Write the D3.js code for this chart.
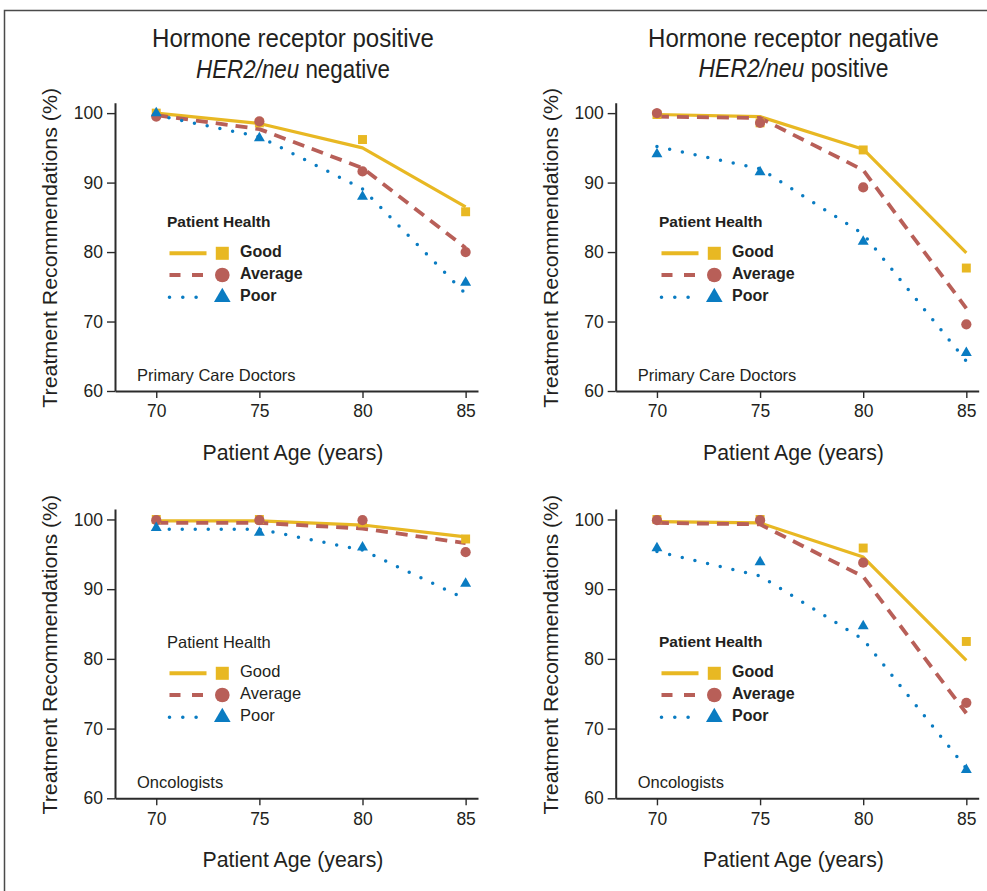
<!DOCTYPE html>
<html>
<head>
<meta charset="utf-8">
<script src="https://cdn.jsdelivr.net/npm/d3@7"></script>
<style>
  html, body { margin: 0; padding: 0; background: #fff; }
  svg { display: block; }
  text { font-family: "Liberation Sans", Arial, Helvetica, sans-serif; fill: #231f20; }
</style>
</head>
<body>
<svg id="chart" width="987" height="891"></svg>
<script>
// ---------------- DATA ----------------
const ages = [70, 75, 80, 85];
const xTicks = [70, 75, 80, 85];
const yTicks = [60, 70, 80, 90, 100];
const healthLevels = ["Good", "Average", "Poor"];
const columnTitles1 = ["Hormone receptor positive", "Hormone receptor negative"];
const columnTitles2Italic = ["HER2/neu", "HER2/neu"];
const columnTitles2Rest = [" negative", " positive"];
const rowLabels = ["Primary Care Doctors", "Oncologists"];
const xAxisTitle = "Patient Age (years)";
const yAxisTitle = "Treatment Recommendations (%)";
const legendTitle = "Patient Health";

// Primary care doctors, HR+ / HER2-   (lines = fitted, markers = observed)
const pcpPosGoodFit = [100.0, 98.5, 95.0, 86.5];
const pcpPosAvgFit  = [99.7, 97.7, 92.1, 80.6];
const pcpPosPoorFit = [99.7, 96.6, 89.1, 74.0];
const pcpPosGoodObs = [100.0, 98.6, 96.2, 85.8];
const pcpPosAvgObs  = [99.5, 98.8, 91.6, 80.0];
const pcpPosPoorObs = [100.0, 96.4, 88.0, 75.6];

// Primary care doctors, HR- / HER2+
const pcpNegGoodFit = [99.8, 99.5, 94.8, 79.9];
const pcpNegAvgFit  = [99.5, 99.3, 91.8, 71.9];
const pcpNegPoorFit = [95.2, 92.0, 82.6, 64.3];
const pcpNegGoodObs = [99.8, 98.6, 94.7, 77.7];
const pcpNegAvgObs  = [100.0, 98.6, 89.3, 69.6];
const pcpNegPoorObs = [94.1, 91.5, 81.5, 65.5];

// Oncologists, HR+ / HER2-
const oncPosGoodFit = [99.8, 99.8, 99.2, 97.5];
const oncPosAvgFit  = [99.5, 99.5, 98.7, 96.6];
const oncPosPoorFit = [98.6, 98.6, 95.6, 88.6];
const oncPosGoodObs = [100.0, 100.0, 99.5, 97.2];
const oncPosAvgObs  = [99.9, 99.9, 99.9, 95.3];
const oncPosPoorObs = [98.8, 98.1, 96.0, 90.8];

// Oncologists, HR- / HER2+
const oncNegGoodFit = [99.7, 99.5, 94.6, 79.8];
const oncNegAvgFit  = [99.5, 99.3, 91.8, 72.2];
const oncNegPoorFit = [95.4, 91.9, 82.8, 64.3];
const oncNegGoodObs = [100.0, 100.0, 95.9, 82.5];
const oncNegAvgObs  = [99.9, 99.9, 93.8, 73.7];
const oncNegPoorObs = [95.9, 93.9, 84.7, 64.1];

// ---------------- STYLE / LAYOUT ----------------
const colors = { Good: "#e8b823", Average: "#b85f58", Poor: "#0a7cc2" };
const dashes = { Good: null, Average: "12,8", Poor: "0,13" };
const widths = { Good: 3.2, Average: 3.8, Poor: 3.5 };

const panels = [
  { left: 115,   top: 102.7, bottom: 391,   col: 0, row: 0, bold: true,
    legendX: 167, legendY: 221.7,
    fit: [pcpPosGoodFit, pcpPosAvgFit, pcpPosPoorFit], obs: [pcpPosGoodObs, pcpPosAvgObs, pcpPosPoorObs] },
  { left: 615.7, top: 102.7, bottom: 391,   col: 1, row: 0, bold: true,
    legendX: 659, legendY: 221.7,
    fit: [pcpNegGoodFit, pcpNegAvgFit, pcpNegPoorFit], obs: [pcpNegGoodObs, pcpNegAvgObs, pcpNegPoorObs] },
  { left: 115,   top: 509,   bottom: 798.3, col: 0, row: 1, bold: false,
    legendX: 167, legendY: 641.7,
    fit: [oncPosGoodFit, oncPosAvgFit, oncPosPoorFit], obs: [oncPosGoodObs, oncPosAvgObs, oncPosPoorObs] },
  { left: 615.7, top: 509,   bottom: 798.3, col: 1, row: 1, bold: true,
    legendX: 659, legendY: 641.7,
    fit: [oncNegGoodFit, oncNegAvgFit, oncNegPoorFit], obs: [oncNegGoodObs, oncNegAvgObs, oncNegPoorObs] }
];
const plotWidth = 363;

const svg = d3.select("#chart");

// figure frame (left + top edges visible)
svg.append("path")
  .attr("d", "M4.5,891 L4.5,10.5 L987,10.5")
  .attr("fill", "none").attr("stroke", "#4a4a4a").attr("stroke-width", 1.5);

// helper: draw centred text horizontally scaled to a target width (condensed look)
function fittedText(parent, cx, cy, size, targetW, build, rotate) {
  const g = parent.append("g");
  const inner = g.append("g");
  const t = inner.append("text")
    .attr("x", 0).attr("y", 0)
    .attr("text-anchor", "middle").attr("dominant-baseline", "central")
    .attr("font-size", size);
  build(t);
  const w = t.node().getComputedTextLength();
  const s = targetW / w;
  inner.attr("transform", `scale(${s},1)`);
  g.attr("transform", `translate(${cx},${cy})` + (rotate ? ` rotate(${rotate})` : ""));
  return g;
}

// column titles
const titleCenters = [293, 793.5];
const titleW1 = [282, 291];
const titleW2 = [194, 190];
[0, 1].forEach(c => {
  fittedText(svg, titleCenters[c], 38, 25.5, titleW1[c], t => t.text(columnTitles1[c]));
  fittedText(svg, titleCenters[c], 68, 25.5, titleW2[c], t => {
    t.append("tspan").attr("font-style", "italic").text(columnTitles2Italic[c]);
    t.append("tspan").text(columnTitles2Rest[c]);
  });
});

function symbolPath(level, size) {
  const type = level === "Good" ? d3.symbolSquare : level === "Average" ? d3.symbolCircle : d3.symbolTriangle;
  return d3.symbol().type(type).size(size)();
}

panels.forEach((p, i) => {
  const x = d3.scaleLinear().domain([68.0, 85.6]).range([p.left, p.left + plotWidth]);
  const y = d3.scaleLinear().domain([60, 101.5]).range([p.bottom, p.top]);
  const g = svg.append("g");

  // axes
  const yAxis = d3.axisLeft(y).tickValues(yTicks).tickSize(8).tickPadding(4).tickSizeOuter(0);
  const xAxis = d3.axisBottom(x).tickValues(xTicks).tickSize(7).tickPadding(7).tickSizeOuter(0);
  const gy = g.append("g").attr("transform", `translate(${p.left},0)`).call(yAxis);
  const gx = g.append("g").attr("transform", `translate(0,${p.bottom})`).call(xAxis);
  [gx, gy].forEach(ax => {
    ax.attr("font-size", 17.5).attr("font-family", "'Liberation Sans', Arial, sans-serif");
    ax.select(".domain").attr("stroke", "#2b2b2b").attr("stroke-width", 2);
    ax.selectAll(".tick line").attr("stroke", "#2b2b2b").attr("stroke-width", 1.4);
    ax.selectAll(".tick text").attr("font-size", 17.5).attr("fill", "#231f20");
  });

  // axis titles
  fittedText(g, titleCenters[p.col], p.bottom + 61, 22.5, 181, t => t.text(xAxisTitle));
  const ymid = (p.top + p.bottom) / 2 + 1;
  fittedText(g, p.left - 65, ymid, 21, 320, t => t.text(yAxisTitle), -90);

  // row label inside plot
  g.append("text")
    .attr("x", p.left + 22).attr("y", p.bottom - 16.5)
    .attr("dominant-baseline", "central")
    .attr("font-size", 16.5)
    .text(rowLabels[p.row]);

  // fitted lines
  const line = d3.line().x((d, k) => x(ages[k])).y(d => y(d));
  healthLevels.forEach((lvl, k) => {
    g.append("path")
      .datum(p.fit[k])
      .attr("d", line)
      .attr("fill", "none")
      .attr("stroke", colors[lvl])
      .attr("stroke-width", widths[lvl])
      .attr("stroke-dasharray", dashes[lvl])
      .attr("stroke-linecap", lvl === "Poor" ? "round" : "butt")
      .attr("stroke-linejoin", "round");
  });

  // observed markers
  const markerSize = { Good: 80, Average: 82, Poor: 52 };
  healthLevels.forEach((lvl, k) => {
    g.selectAll(null).data(p.obs[k]).enter().append("path")
      .attr("d", symbolPath(lvl, markerSize[lvl]))
      .attr("transform", (d, j) => `translate(${x(ages[j])},${y(d)})`)
      .attr("fill", colors[lvl]);
  });

  // legend
  const lg = g.append("g");
  lg.append("text")
    .attr("x", p.legendX).attr("y", p.legendY)
    .attr("dominant-baseline", "central")
    .attr("font-size", p.bold ? 15.5 : 16.5)
    .attr("font-weight", p.bold ? "bold" : "normal")
    .text(legendTitle);
  const rowGap = [31.6, 53.3, 75.6];
  const legSize = { Good: 170, Average: 168, Poor: 120 };
  healthLevels.forEach((lvl, k) => {
    const ry = p.legendY + rowGap[k];
    lg.append("line")
      .attr("x1", p.legendX + 2.5).attr("x2", p.legendX + (lvl === "Poor" ? 31 : 39.5))
      .attr("y1", ry).attr("y2", ry)
      .attr("stroke", colors[lvl])
      .attr("stroke-width", lvl === "Poor" ? 3.6 : 4)
      .attr("stroke-dasharray", lvl === "Average" ? "11,11.5" : lvl === "Poor" ? "0,13.3" : null)
      .attr("stroke-linecap", lvl === "Poor" ? "round" : "butt");
    lg.append("path")
      .attr("d", symbolPath(lvl, legSize[lvl]))
      .attr("transform", `translate(${p.legendX + 55.3},${ry})`)
      .attr("fill", colors[lvl]);
    lg.append("text")
      .attr("x", p.legendX + 73).attr("y", ry - 2)
      .attr("dominant-baseline", "central")
      .attr("font-size", p.bold ? 16 : 16.5)
      .attr("font-weight", p.bold ? "bold" : "normal")
      .text(lvl);
  });
});
</script>
</body>
</html>
